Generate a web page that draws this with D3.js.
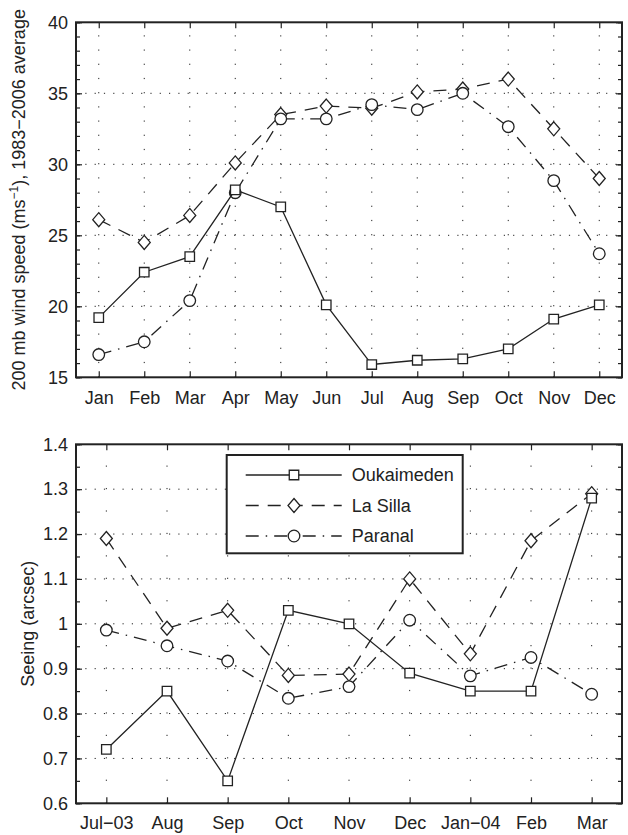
<!DOCTYPE html>
<html>
<head>
<meta charset="utf-8">
<script src="https://cdn.jsdelivr.net/npm/d3@7"></script>
<style>
body { margin: 0; background: #fff; }
svg text { font-family: "Liberation Sans", Arial, Helvetica, sans-serif; font-size: 18px; fill: #222; }
</style>
</head>
<body>
<div id="wrapper"></div>
<script>
// 1. Data
const months = ["Jan", "Feb", "Mar", "Apr", "May", "Jun", "Jul", "Aug", "Sep", "Oct", "Nov", "Dec"];
const windOukaimeden = [19.2, 22.4, 23.5, 28.2, 27.0, 20.1, 15.9, 16.2, 16.3, 17.0, 19.1, 20.1];
const windLaSilla = [26.1, 24.5, 26.4, 30.1, 33.5, 34.1, 33.95, 35.1, 35.3, 36.0, 32.5, 29.0];
const windParanal = [16.6, 17.5, 20.4, 28.0, 33.2, 33.2, 34.2, 33.85, 35.0, 32.65, 28.85, 23.7];
const windTicks = [15, 20, 25, 30, 35, 40];

const seeingMonths = ["Jul\u221203", "Aug", "Sep", "Oct", "Nov", "Dec", "Jan\u221204", "Feb", "Mar"];
const seeingOukaimeden = [0.72, 0.85, 0.65, 1.03, 1.00, 0.89, 0.85, 0.85, 1.28];
const seeingLaSilla = [1.19, 0.99, 1.03, 0.885, 0.888, 1.10, 0.933, 1.185, 1.29];
const seeingParanal = [0.986, 0.951, 0.917, 0.834, 0.86, 1.008, 0.884, 0.925, 0.843];
const seeingTicks = [0.6, 0.7, 0.8, 0.9, 1.0, 1.1, 1.2, 1.3, 1.4];

const siteNames = ["Oukaimeden", "La Silla", "Paranal"];

// 2. Dimensions
const width = 628;
const height = 835;
const ink = "#222";

const topDims = { left: 76, right: 622, top: 22.3, bottom: 377.3 };
const bottomDims = { left: 76, right: 622, top: 444.3, bottom: 803.3 };

const styles = {
    "Oukaimeden": { dash: null, marker: "square" },
    "La Silla": { dash: "13,9", marker: "diamond" },
    "Paranal": { dash: "13,7,1.5,7", marker: "circle" }
};

const markerPath = {
    square: d3.symbol(d3.symbolSquare, 90)(),
    circle: d3.symbol(d3.symbolCircle, 106)(),
    diamond: "M0,-7L6,0L0,7L-6,0Z"
};

// 3. Base svg
const wrapper = d3.select("#wrapper")
    .append("svg")
    .attr("width", width)
    .attr("height", height);

function drawPanel(dims, categories, series, yTicks, minorStep, xPad, yFormat) {
    const bw = dims.right - dims.left;
    const bh = dims.bottom - dims.top;
    const g = wrapper.append("g")
        .attr("transform", `translate(${dims.left},${dims.top})`);

    // 4. Scales
    const xScale = d3.scalePoint()
        .domain(categories)
        .range([0, bw])
        .padding(0.5);
    const yScale = d3.scaleLinear()
        .domain([yTicks[0], yTicks[yTicks.length - 1]])
        .range([bh, 0]);
    const minorTicks = d3.range(yTicks[0], yTicks[yTicks.length - 1] + minorStep / 2, minorStep);
    const minorPx = Math.abs(yScale(yTicks[0] + minorStep) - yScale(yTicks[0]));

    // grid
    g.append("g").selectAll("line")
        .data(yTicks.slice(1, -1))
        .join("line")
        .attr("x1", 0).attr("x2", bw)
        .attr("y1", d => yScale(d)).attr("y2", d => yScale(d))
        .attr("stroke", ink).attr("stroke-width", 1)
        .attr("stroke-dasharray", "1.2,8.1");
    g.append("g").selectAll("line")
        .data(categories)
        .join("line")
        .attr("x1", d => xScale(d)).attr("x2", d => xScale(d))
        .attr("y1", bh).attr("y2", 0)
        .attr("stroke", ink).attr("stroke-width", 1)
        .attr("stroke-dasharray", `1.2,${minorPx - 1.2}`);

    // 5. Axes
    const axes = [
        g.append("g").attr("transform", `translate(0,${bh})`)
            .call(d3.axisBottom(xScale).tickSizeInner(-6).tickSizeOuter(0).tickPadding(xPad)),
        g.append("g")
            .call(d3.axisTop(xScale).tickSizeInner(-6).tickSizeOuter(0).tickFormat("")),
        g.append("g")
            .call(d3.axisLeft(yScale).tickValues(yTicks).tickFormat(yFormat).tickSizeInner(-6).tickSizeOuter(0).tickPadding(8)),
        g.append("g")
            .call(d3.axisLeft(yScale).tickValues(minorTicks).tickFormat("").tickSizeInner(-4).tickSizeOuter(0)),
        g.append("g").attr("transform", `translate(${bw},0)`)
            .call(d3.axisRight(yScale).tickValues(yTicks).tickFormat("").tickSizeInner(-6).tickSizeOuter(0)),
        g.append("g").attr("transform", `translate(${bw},0)`)
            .call(d3.axisRight(yScale).tickValues(minorTicks).tickFormat("").tickSizeInner(-4).tickSizeOuter(0))
    ];
    axes.forEach(a => {
        a.attr("font-size", null).attr("font-family", null).style("color", ink);
        a.select(".domain").remove();
        a.selectAll(".tick line").attr("stroke-width", 1.2);
    });

    g.append("rect")
        .attr("x", 0).attr("y", 0)
        .attr("width", bw).attr("height", bh)
        .attr("fill", "none")
        .attr("stroke", ink)
        .attr("stroke-width", 2);

    // 6. Lines and markers
    const lineGenerator = d3.line()
        .x((d, i) => xScale(categories[i]))
        .y(d => yScale(d));

    ["La Silla", "Paranal", "Oukaimeden"].forEach(name => {
        const values = series[name];
        const st = styles[name];
        g.append("path")
            .attr("d", lineGenerator(values))
            .attr("fill", "none")
            .attr("stroke", ink)
            .attr("stroke-width", 1.3)
            .attr("stroke-dasharray", st.dash);
        g.append("g").selectAll("path")
            .data(values)
            .join("path")
            .attr("d", markerPath[st.marker])
            .attr("transform", (d, i) => `translate(${xScale(categories[i])},${yScale(d)})`)
            .attr("fill", "#fff")
            .attr("stroke", ink)
            .attr("stroke-width", 1.3);
    });
}

drawPanel(topDims, months,
    { "Oukaimeden": windOukaimeden, "La Silla": windLaSilla, "Paranal": windParanal },
    windTicks, 1, 14, d3.format("d"));

drawPanel(bottomDims, seeingMonths,
    { "Oukaimeden": seeingOukaimeden, "La Silla": seeingLaSilla, "Paranal": seeingParanal },
    seeingTicks, 0.05, 13, d => d === 1 ? "1" : d3.format(".1f")(d));

// 7. Axis titles
const topTitle = wrapper.append("text")
    .attr("transform", `translate(25,${(topDims.top + topDims.bottom) / 2}) rotate(-90)`)
    .attr("text-anchor", "middle");
topTitle.append("tspan").text("200 mb wind speed (ms");
topTitle.append("tspan").attr("dy", -7).style("font-size", "12px").text("\u22121");
topTitle.append("tspan").attr("dy", 7).text("), 1983\u22122006 average");

wrapper.append("text")
    .attr("transform", `translate(33.5,${(bottomDims.top + bottomDims.bottom) / 2}) rotate(-90)`)
    .attr("text-anchor", "middle")
    .text("Seeing (arcsec)");

// 8. Legend
const legend = wrapper.append("g");
legend.append("rect")
    .attr("x", 226.7).attr("y", 455)
    .attr("width", 236).attr("height", 98.3)
    .attr("fill", "#fff")
    .attr("stroke", ink)
    .attr("stroke-width", 2);

const legendRows = legend.selectAll("g.row")
    .data(siteNames)
    .join("g")
    .attr("class", "row")
    .attr("transform", (d, i) => `translate(0,${475 + i * 30.5})`);
legendRows.append("line")
    .attr("x1", 245.7).attr("x2", 341.7)
    .attr("stroke", ink)
    .attr("stroke-width", 1.3)
    .attr("stroke-dasharray", d => styles[d].dash);
legendRows.append("path")
    .attr("d", d => markerPath[styles[d].marker])
    .attr("transform", "translate(294,0)")
    .attr("fill", "#fff")
    .attr("stroke", ink)
    .attr("stroke-width", 1.3);
legendRows.append("text")
    .attr("x", 351.7)
    .attr("dy", "0.35em")
    .text(d => d);
</script>
</body>
</html>
